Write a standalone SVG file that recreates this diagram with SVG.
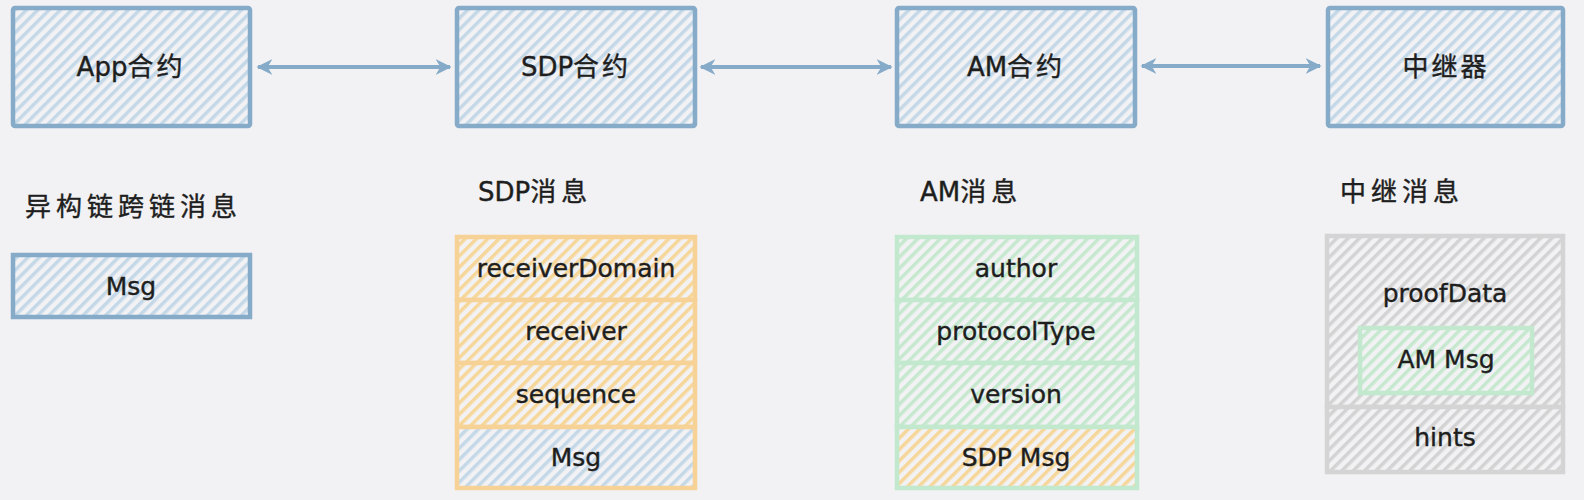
<svg xmlns="http://www.w3.org/2000/svg" width="1584" height="500" viewBox="0 0 1584 500">
<style>
text{font-family:"DejaVu Sans","Noto Sans CJK SC",sans-serif;font-size:25px;fill:#1e1e1e;stroke:#1e1e1e;stroke-width:0.4px;dominant-baseline:central}
.c{text-anchor:middle}
.t{font-size:26px}
.h{text-anchor:start;font-size:26px}
.sp{letter-spacing:5px}
.sp2{letter-spacing:3px}
.blue{fill:url(#hb);stroke:#86abc9;stroke-width:4.5}
.or{fill:url(#ho);stroke:#f6d296;stroke-width:4.5}
.orb{fill:url(#hb);stroke:#f6d296;stroke-width:4.5}
.gr{fill:url(#hg);stroke:#c2e8ce;stroke-width:4.5}
.gro{fill:url(#ho);stroke:#c2e8ce;stroke-width:4.5}
.gy{fill:url(#hy);stroke:#d4d4d4;stroke-width:4.5}
.conn{stroke:#86abc9;stroke-width:4;fill:none;marker-start:url(#ah);marker-end:url(#ah)}
</style>
<defs>
<pattern id="hb" width="8" height="8" patternUnits="userSpaceOnUse" patternTransform="rotate(45)"><rect width="8" height="8" fill="#f2f2f4"/><rect width="3.5" height="8" fill="#c4d8e8"/></pattern>
<pattern id="ho" width="8" height="8" patternUnits="userSpaceOnUse" patternTransform="rotate(45)"><rect width="8" height="8" fill="#f2f2f4"/><rect width="3.5" height="8" fill="#f6d699"/></pattern>
<pattern id="hg" width="8" height="8" patternUnits="userSpaceOnUse" patternTransform="rotate(45)"><rect width="8" height="8" fill="#f2f2f4"/><rect width="3.5" height="8" fill="#c5e8cf"/></pattern>
<pattern id="hy" width="8" height="8" patternUnits="userSpaceOnUse" patternTransform="rotate(45)"><rect width="8" height="8" fill="#f2f2f4"/><rect width="3.5" height="8" fill="#d3d3d3"/></pattern>
<marker id="ah" viewBox="0 0 10 10" refX="9" refY="5" markerWidth="4" markerHeight="4" orient="auto-start-reverse"><path d="M0,0 L10,5 L0,10 L3,5 Z" fill="#86abc9"/></marker>
</defs>
<rect width="1584" height="500" fill="#f2f2f4"/>

<g id="connectors">
<line class="conn" x1="258" y1="67" x2="450" y2="67"/>
<line class="conn" x1="701" y1="67" x2="891" y2="67"/>
<line class="conn" x1="1142" y1="66" x2="1320" y2="66"/>
</g>

<g id="app"><rect class="blue" x="13" y="8" width="237" height="118" rx="2"/><text class="c t" x="131" y="67">App<tspan class="sp2">合约</tspan></text></g>
<g id="sdp"><rect class="blue" x="457" y="8" width="238" height="118" rx="2"/><text class="c t" x="576" y="67">SDP<tspan class="sp2">合约</tspan></text></g>
<g id="am"><rect class="blue" x="897" y="8" width="238" height="118" rx="2"/><text class="c t" x="1016" y="67">AM<tspan class="sp2">合约</tspan></text></g>
<g id="relay"><rect class="blue" x="1328" y="8" width="235" height="118" rx="2"/><text class="c t sp2" x="1446" y="67">中继器</text></g>

<g id="label-msg"><text class="h sp" x="25" y="207">异构链跨链消息</text></g>
<g id="label-sdp"><text class="h" x="478" y="192">SDP<tspan class="sp">消息</tspan></text></g>
<g id="label-am"><text class="h" x="920" y="192">AM<tspan class="sp">消息</tspan></text></g>
<g id="label-relay"><text class="h sp" x="1340" y="192">中继消息</text></g>

<g id="msg"><rect class="blue" x="13" y="255" width="237" height="62"/><text class="c" x="131" y="286">Msg</text></g>

<g id="sdp-msg">
<rect class="or" x="457" y="237" width="238" height="63"/><text class="c" x="576" y="268">receiverDomain</text>
<rect class="or" x="457" y="300" width="238" height="63"/><text class="c" x="576" y="331">receiver</text>
<rect class="or" x="457" y="363" width="238" height="64"/><text class="c" x="576" y="394">sequence</text>
<rect class="orb" x="457" y="427" width="238" height="61"/><text class="c" x="576" y="457">Msg</text>
</g>

<g id="am-msg">
<rect class="gr" x="897" y="237" width="240" height="63"/><text class="c" x="1016" y="268">author</text>
<rect class="gr" x="897" y="300" width="240" height="63"/><text class="c" x="1016" y="331">protocolType</text>
<rect class="gr" x="897" y="363" width="240" height="64"/><text class="c" x="1016" y="394">version</text>
<rect class="gro" x="897" y="427" width="240" height="61"/><text class="c" x="1016" y="457">SDP Msg</text>
</g>

<g id="relay-msg">
<rect class="gy" x="1327" y="236" width="236" height="171"/><text class="c" x="1445" y="293">proofData</text>
<rect class="gr" x="1360" y="328" width="172" height="65"/><text class="c" x="1446" y="359">AM Msg</text>
<rect class="gy" x="1327" y="407" width="236" height="65"/><text class="c" x="1445" y="437">hints</text>
</g>
</svg>
